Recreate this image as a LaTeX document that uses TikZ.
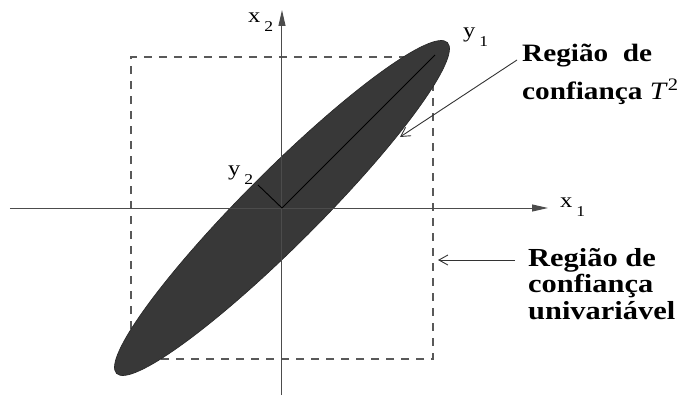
\documentclass[tikz,border=0pt]{standalone}
\usepackage{fontspec}
\setmainfont{Liberation Serif}
\newfontfamily\widefont[FakeStretch=1.17]{Liberation Serif}
\usetikzlibrary{arrows.meta,positioning,calc}
\tikzset{
  axis/.style   ={draw=black!70, line width=1pt, -{Triangle[length=16pt,width=7pt]}},
  bound/.style  ={draw=black!65, line width=1.1pt, dash pattern=on 8pt off 7pt},
  region/.style ={fill=black!78, draw=black!85, line width=0.6pt},
  pc/.style     ={draw=black, line width=0.9pt},
  axlbl/.style  ={font=\widefont\fontsize{21}{21}\selectfont, inner sep=0pt, anchor=base west},
  note/.style   ={font=\widefont\bfseries, align=left, inner sep=0pt, anchor=north west},
  ptr/.style    ={draw=black!80, line width=0.9pt, -{Straight Barb[length=9pt,width=10pt]}},
}
\newcommand{\ix}[1]{\hspace{4pt}{\fontsize{15}{15}\selectfont\raisebox{-9pt}{#1}}}

\begin{document}
\begin{tikzpicture}[x=1pt,y=1pt]
\useasboundingbox (-282,-202) rectangle (398,208);

% ---- confidence regions ----
\draw[bound] (-151,-151) rectangle (151,151);
\filldraw[region, rotate=45] (0,0) ellipse [x radius=234, y radius=37];

% ---- axes ----
\coordinate (o) at (0,0);
\coordinate (xl) at (-272,0);
\coordinate (xr) at (266,0);
\coordinate (yb) at (0,-187);
\coordinate (yt) at (0,198);
\draw[axis] (xl) -- (xr);
\draw[axis] (yb) -- (yt);

% ---- principal axes of the ellipse ----
\coordinate (y1end) at (153,153);
\coordinate (y2end) at (-24,23);
\draw[pc] (o) -- (y1end);
\draw[pc] (o) -- (y2end);

\node[axlbl] (x1lbl) at (278,1)   {x\ix{1}};
\node[axlbl] (x2lbl) at (-34,185) {x\ix{2}};
\node[axlbl] (y1lbl) at (181,170) {y\ix{1}};
\node[axlbl] (y2lbl) at (-54,33)  {y\ix{2}};

% ---- labels ----
\node[note, font=\widefont\bfseries\fontsize{25}{38}\selectfont] (t2note) at (240,164)
  {Região~~de\\confiança \textit{\mdseries T}\textsuperscript{\mdseries 2}};
\node[note, font=\widefont\bfseries\fontsize{26}{26.5}\selectfont] (uninote) at (246,-40)
  {Região de\\confiança\\univariável};

\coordinate (t2tip) at (118,71);
\coordinate (unitip) at (156,-52);
\draw[ptr] ([xshift=-5pt,yshift=-16pt]t2note.north west) -- (t2tip);
\draw[ptr] ([xshift=-13pt,yshift=-12pt]uninote.north west) -- (unitip);

\end{tikzpicture}
\end{document}
